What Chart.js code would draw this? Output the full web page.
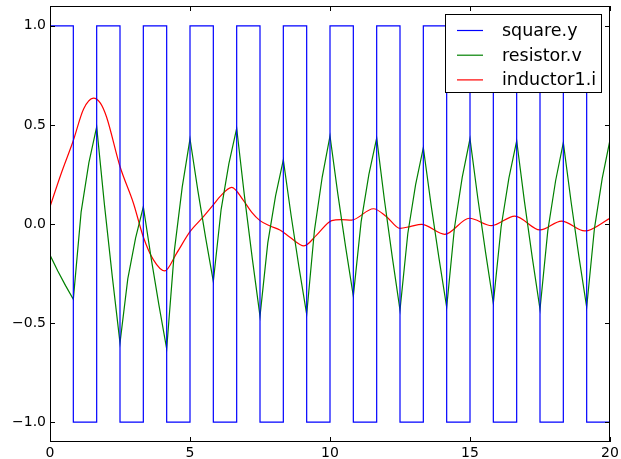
<!DOCTYPE html>
<html lang="en">
<head>
    <meta charset="UTF-8">
    <title>square / resistor / inductor</title>
    <script src="https://cdn.jsdelivr.net/npm/chart.js"></script>
    <style>
        html, body { margin: 0; padding: 0; background: #fff; }
        canvas { display: block; }
    </style>
</head>
<body>
    <canvas id="simChart" width="621" height="459"></canvas>

    <script>
        // ticks
        const xTicks = [0, 5, 10, 15, 20];
        const yTicks = [-1.0, -0.5, 0.0, 0.5, 1.0];

        // square.y : switching times and level after each switch
        const squareT = [0, 0.833, 1.667, 2.5, 3.333, 4.167, 5, 5.833, 6.667, 7.5, 8.333, 9.167, 10,
                         10.833, 11.667, 12.5, 13.333, 14.167, 15, 15.833, 16.667, 17.5, 18.333, 19.167, 20];
        const squareY = [1, -1, 1, -1, 1, -1, 1, -1, 1, -1, 1, -1, 1,
                         -1, 1, -1, 1, -1, 1, -1, 1, -1, 1, -1, -1];

        // resistor.v
        const resistorT = [0, 0.278, 0.556, 0.833, 1.111, 1.389, 1.667, 1.944, 2.222, 2.5, 2.778, 3.056,
                           3.333, 3.611, 3.889, 4.167, 4.444, 4.722, 5, 5.278, 5.556, 5.833, 6.111, 6.389,
                           6.667, 6.944, 7.222, 7.5, 7.778, 8.056, 8.333, 8.611, 8.889, 9.167, 9.444, 9.722,
                           10, 10.278, 10.556, 10.833, 11.111, 11.389, 11.667, 11.944, 12.222, 12.5, 12.778, 13.056,
                           13.333, 13.611, 13.889, 14.167, 14.444, 14.722, 15, 15.278, 15.556, 15.833, 16.111, 16.389,
                           16.667, 16.944, 17.222, 17.5, 17.778, 18.056, 18.333, 18.611, 18.889, 19.167, 19.444, 19.722, 20];
        const resistorV = [-0.157, -0.237, -0.311, -0.38, 0.06, 0.31, 0.49, 0.098, -0.262, -0.60, -0.277, -0.071,
                           0.087, -0.171, -0.408, -0.63, -0.132, 0.186, 0.43, 0.171, -0.067, -0.29, 0.073, 0.305,
                           0.483, 0.142, -0.171, -0.465, -0.095, 0.142, 0.323, 0.043, -0.215, -0.456, -0.033, 0.237,
                           0.444, 0.153, -0.114, -0.364, 0.011, 0.25, 0.433, 0.121, -0.165, -0.434, -0.049, 0.197,
                           0.385, 0.095, -0.17, -0.42, -0.02, 0.235, 0.43, 0.131, -0.143, -0.40, -0.015, 0.231,
                           0.42, 0.114, -0.167, -0.43, -0.035, 0.217, 0.41, 0.111, -0.163, -0.42, -0.023, 0.23, 0.424];

        // inductor1.i
        const inductorT = [0, 0.4, 0.83, 1.2, 1.55, 1.8, 2.02, 2.5, 2.98, 3.33, 3.69, 4.1, 4.52, 5.0, 5.48,
                           5.83, 6.07, 6.49, 6.9, 7.2, 7.5, 7.86, 8.21, 8.57, 9.07, 9.52, 10.06, 10.4, 10.77,
                           11.55, 12.02, 12.5, 12.86, 13.27, 14.1, 14.98, 15.77, 16.6, 17.5, 18.27, 19.1, 20];
        const inductorI = [0.087, 0.255, 0.42, 0.58, 0.635, 0.61, 0.54, 0.29, 0.105, -0.064, -0.18, -0.237, -0.148, -0.039, 0.037,
                           0.096, 0.138, 0.185, 0.121, 0.06, 0.017, -0.01, -0.03, -0.067, -0.11, -0.056, 0.017, 0.022, 0.02,
                           0.077, 0.037, -0.022, -0.013, -0.002, -0.052, 0.029, -0.008, 0.04, -0.03, 0.015, -0.035, 0.029];

        const labels = ["square.y", "resistor.v", "inductor1.i"];
        const colors = ["#0000ff", "#008000", "#ff0000"];

        const FONT = "'DejaVu Sans', Verdana, sans-serif";

        function pts(xs, ys) {
            return xs.map((x, i) => ({ x: x, y: ys[i] }));
        }

        function fmt(v) {
            const s = Math.abs(v).toFixed(1);
            return v < 0 ? "\u2212" + s : s;
        }

        function noPad(s) {
            s.paddingTop = 0; s.paddingBottom = 0;
            s.paddingLeft = 0; s.paddingRight = 0;
        }

        // frame, inward ticks and the boxed legend, old matplotlib style
        const mplDecor = {
            id: "mplDecor",
            afterDraw(chart) {
                const ctx = chart.ctx;
                const a = chart.chartArea;
                const xs = chart.scales.x, ys = chart.scales.y;
                ctx.save();
                ctx.strokeStyle = "#000";
                ctx.lineWidth = 1;
                ctx.strokeRect(Math.round(a.left) + 0.5, Math.round(a.top) + 0.5,
                    Math.round(a.right - a.left) - 1, Math.round(a.bottom - a.top) - 1);
                ctx.beginPath();
                xTicks.forEach(v => {
                    const px = Math.round(xs.getPixelForValue(v)) + 0.5;
                    ctx.moveTo(px, a.bottom); ctx.lineTo(px, a.bottom - 5);
                    ctx.moveTo(px, a.top); ctx.lineTo(px, a.top + 5);
                });
                yTicks.forEach(v => {
                    const py = Math.round(ys.getPixelForValue(v)) + 0.5;
                    ctx.moveTo(a.left, py); ctx.lineTo(a.left + 5, py);
                    ctx.moveTo(a.right, py); ctx.lineTo(a.right - 5, py);
                });
                ctx.stroke();

                // legend
                const bx = 445.5, by = 14.5, bw = 156, bh = 78;
                ctx.fillStyle = "#fff";
                ctx.fillRect(bx, by, bw, bh);
                ctx.strokeStyle = "#000";
                ctx.strokeRect(bx, by, bw, bh);
                ctx.font = "17.5px " + FONT;
                ctx.textBaseline = "middle";
                ctx.textAlign = "left";
                labels.forEach((lab, i) => {
                    const yy = 30.5 + i * 24.7;
                    ctx.strokeStyle = colors[i];
                    ctx.lineWidth = 1.2;
                    ctx.beginPath();
                    ctx.moveTo(457, yy); ctx.lineTo(483, yy);
                    ctx.stroke();
                    ctx.fillStyle = "#000";
                    ctx.fillText(lab, 502, yy + 1);
                });
                ctx.restore();
            }
        };

        const ctx = document.getElementById("simChart").getContext("2d");
        new Chart(ctx, {
            type: "line",
            data: {
                datasets: [
                    {
                        label: labels[0],
                        data: pts(squareT, squareY),
                        borderColor: colors[0],
                        borderWidth: 1.2,
                        stepped: true,
                        pointRadius: 0
                    },
                    {
                        label: labels[1],
                        data: pts(resistorT, resistorV),
                        borderColor: colors[1],
                        borderWidth: 1.2,
                        tension: 0,
                        pointRadius: 0
                    },
                    {
                        label: labels[2],
                        data: pts(inductorT, inductorI),
                        borderColor: colors[2],
                        borderWidth: 1.2,
                        cubicInterpolationMode: "monotone",
                        pointRadius: 0
                    }
                ]
            },
            options: {
                responsive: false,
                animation: false,
                layout: { padding: { left: 0, right: 11, top: 6, bottom: 0 } },
                plugins: {
                    legend: { display: false },
                    tooltip: { enabled: false }
                },
                scales: {
                    x: {
                        type: "linear",
                        min: 0,
                        max: 20,
                        grid: { display: false, drawTicks: false, tickLength: 0 },
                        border: { display: false },
                        afterBuildTicks: s => { s.ticks = xTicks.map(v => ({ value: v })); },
                        afterFit: s => { s.height = 17; noPad(s); },
                        ticks: {
                            color: "#000",
                            padding: 3,
                            maxRotation: 0,
                            font: { family: FONT, size: 14 },
                            callback: v => String(v)
                        }
                    },
                    y: {
                        type: "linear",
                        min: -1.1,
                        max: 1.1,
                        grid: { display: false, drawTicks: false, tickLength: 0 },
                        border: { display: false },
                        afterBuildTicks: s => { s.ticks = yTicks.map(v => ({ value: v })); },
                        afterFit: s => { s.width = 50; noPad(s); },
                        ticks: {
                            color: "#000",
                            padding: 4,
                            font: { family: FONT, size: 14 },
                            callback: v => fmt(v)
                        }
                    }
                }
            },
            plugins: [mplDecor]
        });
    </script>
</body>
</html>
